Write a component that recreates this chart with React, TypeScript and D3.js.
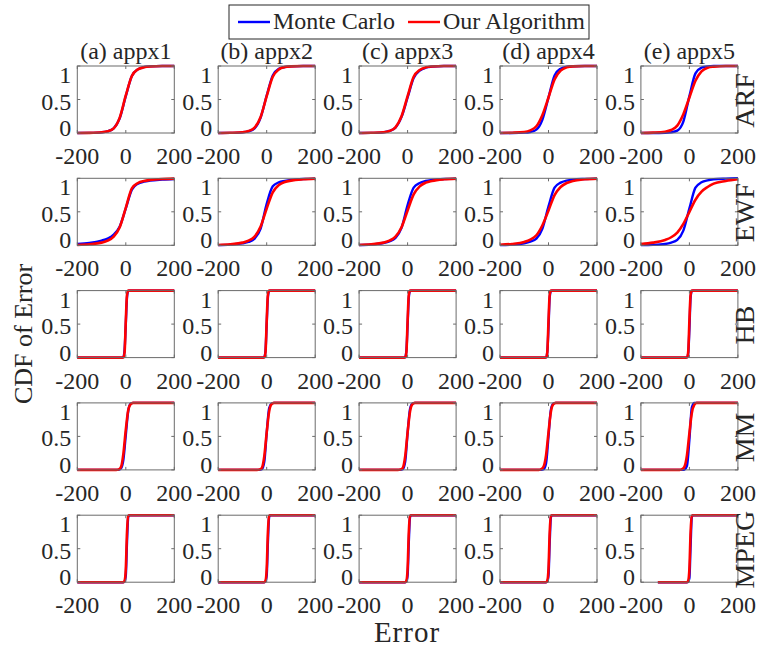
import React from "react";
import * as d3 from "d3";

// ---------- data ----------
const columnTitles = ["(a) appx1", "(b) appx2", "(c) appx3", "(d) appx4", "(e) appx5"];
const rowNames = ["ARF", "EWF", "HB", "MM", "MPEG"];
const seriesNames = ["Monte Carlo", "Our Algorithm"];
const xTicks = [-200, 0, 200];
const xTickLabels = ["-200", "0", "200"];
const yTicks = [0, 0.5, 1];
const yTickLabels = ["0", "0.5", "1"];

const smoothX = [-200, -150, -100, -75, -50, -25, 0, 25, 50, 75, 100, 150, 200];
const stepX = [-200, -15, -10, -5, 0, 5, 10, 15, 200];
const stepXShort = [-130, -15, -10, -5, 0, 5, 10, 15, 200];
const mmX = [-200, -40, -30, -20, -10, 0, 10, 20, 30, 40, 200];

const arfMC = [
  [0, 0.002, 0.01, 0.025, 0.07, 0.22, 0.55, 0.85, 0.95, 0.985, 0.995, 1, 1],
  [0, 0.002, 0.01, 0.025, 0.07, 0.23, 0.56, 0.86, 0.96, 0.985, 0.995, 1, 1],
  [0, 0.002, 0.01, 0.03, 0.08, 0.24, 0.53, 0.82, 0.93, 0.975, 0.99, 1, 1],
  [0, 0.001, 0.005, 0.015, 0.05, 0.2, 0.53, 0.86, 0.96, 0.99, 0.997, 1, 1],
  [0, 0, 0.003, 0.01, 0.035, 0.17, 0.55, 0.89, 0.975, 0.995, 1, 1, 1],
];
const arfOurs = [
  [0, 0.002, 0.01, 0.025, 0.07, 0.23, 0.56, 0.85, 0.95, 0.98, 0.993, 1, 1],
  [0, 0.003, 0.012, 0.03, 0.08, 0.24, 0.55, 0.84, 0.95, 0.985, 0.995, 1, 1],
  [0, 0.003, 0.012, 0.03, 0.085, 0.25, 0.55, 0.84, 0.94, 0.98, 0.993, 1, 1],
  [0, 0.004, 0.015, 0.04, 0.1, 0.27, 0.53, 0.8, 0.93, 0.98, 0.995, 1, 1],
  [0, 0.005, 0.02, 0.045, 0.11, 0.28, 0.53, 0.78, 0.92, 0.975, 0.99, 1, 1],
];
const ewfMC = [
  [0.02, 0.035, 0.07, 0.1, 0.16, 0.28, 0.55, 0.83, 0.92, 0.95, 0.965, 0.98, 0.99],
  [0.003, 0.01, 0.03, 0.05, 0.1, 0.25, 0.62, 0.88, 0.94, 0.96, 0.975, 0.99, 0.995],
  [0.005, 0.012, 0.035, 0.06, 0.11, 0.26, 0.6, 0.86, 0.93, 0.96, 0.975, 0.99, 0.995],
  [0.003, 0.01, 0.03, 0.055, 0.1, 0.25, 0.58, 0.86, 0.935, 0.965, 0.98, 0.99, 0.995],
  [0.002, 0.006, 0.02, 0.04, 0.08, 0.22, 0.55, 0.86, 0.94, 0.97, 0.985, 0.995, 1],
];
const ewfOurs = [
  [0.005, 0.015, 0.04, 0.07, 0.13, 0.27, 0.56, 0.85, 0.93, 0.96, 0.975, 0.99, 0.995],
  [0.005, 0.015, 0.04, 0.07, 0.13, 0.28, 0.55, 0.79, 0.9, 0.945, 0.965, 0.985, 0.995],
  [0.005, 0.015, 0.04, 0.07, 0.13, 0.27, 0.52, 0.76, 0.88, 0.935, 0.96, 0.985, 0.995],
  [0.008, 0.02, 0.05, 0.085, 0.15, 0.3, 0.52, 0.75, 0.87, 0.93, 0.96, 0.985, 0.995],
  [0.02, 0.04, 0.08, 0.12, 0.19, 0.32, 0.5, 0.68, 0.8, 0.87, 0.92, 0.96, 0.985],
];
const hbMC = [
  [0, 0, 0.01, 0.12, 0.5, 0.9, 0.99, 1, 1],
  [0, 0, 0.01, 0.1, 0.5, 0.9, 0.99, 1, 1],
  [0, 0, 0.01, 0.1, 0.48, 0.9, 0.99, 1, 1],
  [0, 0, 0.005, 0.08, 0.45, 0.9, 0.99, 1, 1],
  [0, 0, 0.005, 0.06, 0.42, 0.9, 0.99, 1, 1],
];
const hbOurs = [
  [0, 0, 0.005, 0.08, 0.55, 0.94, 1, 1, 1],
  [0, 0, 0.005, 0.08, 0.55, 0.94, 1, 1, 1],
  [0, 0, 0.005, 0.08, 0.55, 0.94, 1, 1, 1],
  [0, 0, 0.005, 0.08, 0.55, 0.94, 1, 1, 1],
  [0, 0, 0.005, 0.08, 0.55, 0.94, 1, 1, 1],
];
const mmMC = [
  [0, 0, 0, 0.02, 0.15, 0.52, 0.88, 0.99, 1, 1, 1],
  [0, 0, 0, 0.01, 0.12, 0.55, 0.92, 0.99, 1, 1, 1],
  [0, 0, 0, 0.01, 0.12, 0.55, 0.91, 0.99, 1, 1, 1],
  [0, 0, 0, 0.01, 0.1, 0.5, 0.9, 0.99, 1, 1, 1],
  [0, 0, 0, 0.005, 0.06, 0.45, 0.93, 1, 1, 1, 1],
];
const mmOurs = [
  [0, 0, 0.005, 0.04, 0.24, 0.6, 0.89, 0.98, 1, 1, 1],
  [0, 0, 0.005, 0.03, 0.2, 0.56, 0.87, 0.98, 1, 1, 1],
  [0, 0, 0.005, 0.03, 0.2, 0.56, 0.87, 0.98, 1, 1, 1],
  [0, 0, 0.01, 0.05, 0.22, 0.56, 0.87, 0.98, 1, 1, 1],
  [0, 0, 0.01, 0.05, 0.22, 0.55, 0.85, 0.97, 1, 1, 1],
];
const mpegMC = [
  [0, 0, 0, 0.01, 0.1, 0.6, 0.97, 1, 1],
  [0, 0, 0, 0.01, 0.1, 0.6, 0.97, 1, 1],
  [0, 0, 0, 0.01, 0.1, 0.6, 0.97, 1, 1],
  [0, 0, 0, 0.01, 0.1, 0.6, 0.97, 1, 1],
  [0, 0, 0, 0.005, 0.06, 0.55, 0.97, 1, 1],
];
const mpegOurs = [
  [0, 0, 0, 0.02, 0.2, 0.75, 0.99, 1, 1],
  [0, 0, 0, 0.02, 0.2, 0.75, 0.99, 1, 1],
  [0, 0, 0, 0.02, 0.2, 0.75, 0.99, 1, 1],
  [0, 0, 0, 0.02, 0.2, 0.75, 0.99, 1, 1],
  [0, 0, 0, 0.02, 0.2, 0.75, 0.99, 1, 1],
];

const rowXs = [
  [smoothX, smoothX, smoothX, smoothX, smoothX],
  [smoothX, smoothX, smoothX, smoothX, smoothX],
  [stepX, stepX, stepX, stepX, stepX],
  [mmX, mmX, mmX, mmX, mmX],
  [stepX, stepX, stepX, stepX, stepXShort],
];
const rowMC = [arfMC, ewfMC, hbMC, mmMC, mpegMC];
const rowOurs = [arfOurs, ewfOurs, hbOurs, mmOurs, mpegOurs];

// ---------- layout ----------
const W = 762;
const H = 650;
const FONT = "Liberation Serif, Times New Roman, Times, DejaVu Serif, serif";
const TXT = "#262626";
const COLORS = ["#0000ff", "#ff0000"];
const panelLeft0 = 77.3;
const panelStepX = 140.9;
const panelW = 97;
const panelTop0 = 66;
const panelStepY = 112.3;
const panelH = 67;
const SMALL = 24;

const textStyle = { fontFamily: FONT, fill: TXT } as React.CSSProperties;

function Panel({ r, c }: { r: number; c: number }) {
  const left = panelLeft0 + c * panelStepX;
  const top = panelTop0 + r * panelStepY;
  const x = d3.scaleLinear().domain([-200, 200]).range([left, left + panelW]);
  const y = d3.scaleLinear().domain([0, 1]).range([top + panelH, top]);
  const yLab = d3.scaleLinear().domain([0, 1]).range([top + panelH + 3, top + 17]);
  const xs = rowXs[r][c];
  const line = d3
    .line<number>()
    .x((_, i) => x(xs[i]))
    .y((d) => y(d))
    .curve(d3.curveMonotoneX);
  const series = [rowMC[r][c], rowOurs[r][c]];
  const tl = 3;
  return (
    <g>
      {series.map((s, k) => (
        <path key={k} d={line(s) || ""} fill="none" stroke={COLORS[k]} strokeWidth={k === 1 ? 2.6 : 2.4} strokeLinejoin="round" />
      ))}
      <rect x={left} y={top} width={panelW} height={panelH} fill="none" stroke="#6b6b6b" strokeWidth={1} />
      {xTicks.map((t, i) => (
        <g key={"xt" + i}>
          <line x1={x(t)} x2={x(t)} y1={top + panelH} y2={top + panelH - tl} stroke="#6b6b6b" />
          <line x1={x(t)} x2={x(t)} y1={top} y2={top + tl} stroke="#6b6b6b" />
          <text x={x(t)} y={top + panelH + 31} textAnchor="middle" fontSize={SMALL} style={textStyle}>
            {xTickLabels[i]}
          </text>
        </g>
      ))}
      {yTicks.map((t, i) => (
        <g key={"yt" + i}>
          <line x1={left} x2={left + tl} y1={y(t)} y2={y(t)} stroke="#6b6b6b" />
          <line x1={left + panelW} x2={left + panelW - tl} y1={y(t)} y2={y(t)} stroke="#6b6b6b" />
          <text x={left - 6} y={yLab(t)} textAnchor="end" fontSize={SMALL} style={textStyle}>
            {yTickLabels[i]}
          </text>
        </g>
      ))}
    </g>
  );
}

export default function App() {
  const lastLeft = panelLeft0 + 4 * panelStepX;
  return (
    <svg width={W} height={H} style={{ position: "absolute", left: 0, top: 0, background: "#fff", fontFamily: FONT }}>
      <rect x={0} y={0} width={W} height={H} fill="#fff" />
      {/* legend */}
      <rect x={229} y={5} width={360} height={34} fill="#fff" stroke="#262626" strokeWidth={1} />
      <line x1={238} x2={270} y1={22} y2={22} stroke={COLORS[0]} strokeWidth={2.4} />
      <text x={273} y={29} fontSize={SMALL} style={textStyle}>{seriesNames[0]}</text>
      <line x1={408} x2={440} y1={22} y2={22} stroke={COLORS[1]} strokeWidth={2.4} />
      <text x={443} y={29} fontSize={SMALL} style={textStyle}>{seriesNames[1]}</text>
      {/* column titles */}
      {columnTitles.map((t, c) => (
        <text key={t} x={panelLeft0 + c * panelStepX + panelW / 2} y={panelTop0 - 7} textAnchor="middle" fontSize={SMALL} style={textStyle}>
          {t}
        </text>
      ))}
      {rowNames.map((rn, r) =>
        columnTitles.map((_, c) => <Panel key={rn + c} r={r} c={c} />)
      )}
      {/* row labels */}
      {rowNames.map((rn, r) => (
        <text
          key={rn}
          transform={`translate(${lastLeft + panelW + 16},${panelTop0 + r * panelStepY + panelH / 2 + 1}) rotate(-90)`}
          textAnchor="middle"
          fontSize={28}
          style={textStyle}
        >
          {rn}
        </text>
      ))}
      {/* axis labels */}
      <text transform={`translate(32,334) rotate(-90)`} textAnchor="middle" fontSize={26} style={textStyle}>
        CDF of Error
      </text>
      <text x={407} y={642} textAnchor="middle" fontSize={29} letterSpacing={1} style={textStyle}>
        Error
      </text>
    </svg>
  );
}
